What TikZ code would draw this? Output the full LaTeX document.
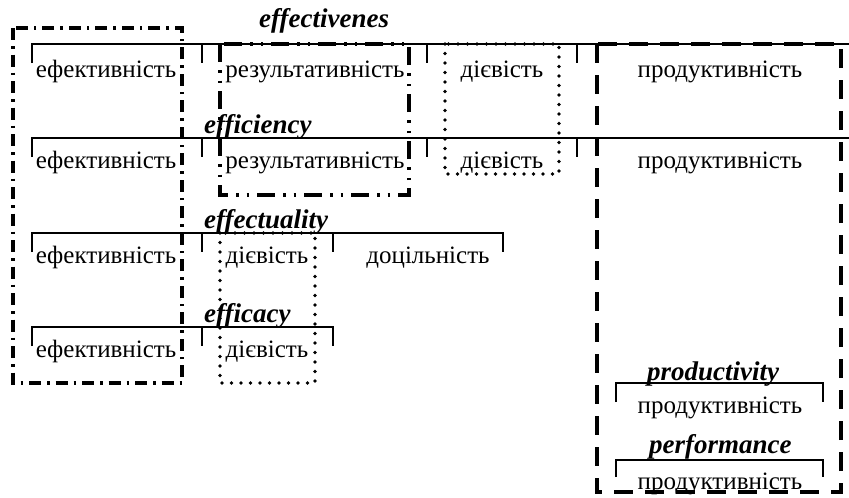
\documentclass[tikz,border=0pt]{standalone}
\usepackage{fontspec}
\setmainfont{Liberation Serif}
\begin{document}
\begin{tikzpicture}[x=1pt,y=-1pt,
  word/.style={font=\fontsize{25}{29}\selectfont, anchor=base, inner sep=0pt},
  term/.style={font=\fontsize{27}{31}\selectfont\bfseries\itshape, anchor=base west, inner sep=0pt},
  brk/.style={line width=1.4pt},
  boxdd/.style={line width=3.2pt, dash pattern=on 12pt off 6pt on 2.5pt off 6pt},
  boxddd/.style={line width=3.2pt, dash pattern=on 18pt off 8pt on 2.5pt off 8pt on 2.5pt off 8pt},
  boxdot/.style={line width=3.8pt, line cap=round, dash pattern=on 0pt off 9.5pt},
  boxdash/.style={line width=3.4pt, dash pattern=on 19pt off 12pt}]
\useasboundingbox (0,0) rectangle (849,498);
% brackets
\draw[brk] (32,63) -- (32,44) -- (849,44);
\foreach \x in {202,427,577} \draw[brk] (\x,44) -- (\x,63);
\draw[brk] (32,157) -- (32,138) -- (849,138);
\foreach \x in {202,427,577} \draw[brk] (\x,138) -- (\x,157);
\draw[brk] (32,252) -- (32,233) -- (503,233) -- (503,252);
\foreach \x in {202,333} \draw[brk] (\x,233) -- (\x,252);
\draw[brk] (32,346) -- (32,327) -- (333,327) -- (333,346);
\draw[brk] (202,327) -- (202,346);
\draw[brk] (616,402) -- (616,383) -- (823,383) -- (823,402);
\draw[brk] (616,477) -- (616,460) -- (823,460) -- (823,477);
% terms
\node[term] (t1) at (259,27) {effectivenes};
\node[term] (t2) at (204,133) {efficiency};
\node[term] (t3) at (204,228) {effectuality};
\node[term] (t4) at (204,322) {efficacy};
\node[term] (t5) at (647,380) {productivity};
\node[term] (t6) at (649,453) {performance};
% words
\node[word] (a1) at (106,77) {ефективність};
\node[word] (b1) at (315,77) {результативність};
\node[word] (c1) at (502,77) {дієвість};
\node[word] (d1) at (720,77) {продуктивність};
\node[word] (a2) at (106,168) {ефективність};
\node[word] (b2) at (315,168) {результативність};
\node[word] (c2) at (502,168) {дієвість};
\node[word] (d2) at (720,168) {продуктивність};
\node[word] (a3) at (106,263) {ефективність};
\node[word] (c3) at (267,263) {дієвість};
\node[word] (e3) at (428,263) {доцільність};
\node[word] (a4) at (106,357) {ефективність};
\node[word] (c4) at (267,357) {дієвість};
\node[word] (d5) at (720,413) {продуктивність};
\node[word] (d6) at (720,489) {продуктивність};
% grouping boxes
\draw[boxdd] (13,28) rectangle (182,383);
\draw[boxddd] (220,44) rectangle (409,195);
\draw[boxdot] (445,44) rectangle (559,174);
\draw[boxdot] (220,233) rectangle (315,383);
\draw[boxdash] (597,44) rectangle (841,492);
\end{tikzpicture}
\end{document}
